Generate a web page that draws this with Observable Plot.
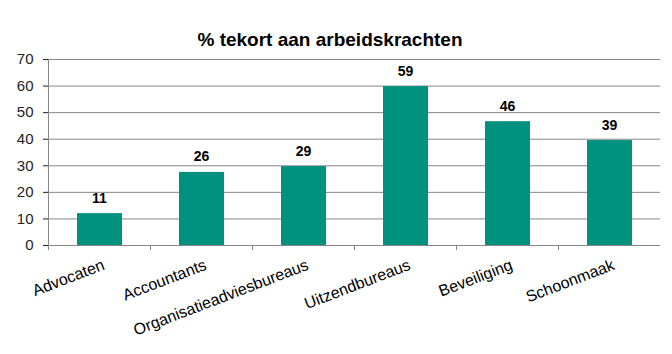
<!DOCTYPE html>
<html>
<head>
<meta charset="utf-8">
<script src="https://cdn.jsdelivr.net/npm/d3@7"></script>
<script src="https://cdn.jsdelivr.net/npm/@observablehq/plot@0.6"></script>
<style>
  html, body { margin: 0; padding: 0; background: #fff; }
  #title {
    width: 660px; height: 46px; box-sizing: border-box; padding-top: 29px;
    text-align: center; font: bold 19px "Liberation Sans", Arial, sans-serif;
    line-height: 22px; color: #000; overflow: visible; white-space: nowrap;
  }
</style>
</head>
<body>
<div id="title">% tekort aan arbeidskrachten</div>
<div id="chart"></div>
<script>
const categories = ["Advocaten", "Accountants", "Organisatieadviesbureaus", "Uitzendbureaus", "Beveiliging", "Schoonmaak"];
const values = [12, 27.5, 29.7, 59.8, 46.6, 39.5];
const valueLabels = ["11", "26", "29", "59", "46", "39"];
const yTicks = [0, 10, 20, 30, 40, 50, 60, 70];

const data = categories.map((c, i) => ({cat: c, value: values[i], label: valueLabels[i]}));

const W = 672, mL = 48, mR = 12;
const half = (W - mL - mR) / categories.length / 2;

const chart = Plot.plot({
  width: W,
  height: 308,
  marginTop: 13,
  marginBottom: 109,
  marginLeft: mL,
  marginRight: mR,
  style: {fontFamily: '"Liberation Sans", Arial, sans-serif', fontSize: "15px", color: "#222", background: "#fff"},
  x: {domain: categories, padding: 0, axis: null},
  y: {domain: [0, 70], ticks: yTicks, tickSize: 5, tickPadding: 10, label: null, tickFormat: d => String(d)},
  marks: [
    Plot.ruleY(yTicks, {stroke: "#868686", strokeWidth: 1}),
    Plot.ruleX([categories[0]], {y1: 0, y2: 70, dx: -half, stroke: "#868686"}),
    Plot.ruleX(categories, {y1: 0, y2: 0, insetBottom: -5, dx: -half, stroke: "#868686"}),
    Plot.barY(data, {x: "cat", y: "value", fill: "#00917f", insetLeft: 29, insetRight: 28}),
    Plot.text(data, {x: "cat", y: "value", text: "label", dy: -11, lineAnchor: "bottom", fontWeight: "bold", fontSize: 14, fill: "#000"}),
    Plot.text(categories, {x: d => d, frameAnchor: "bottom", dy: 13, dx: 2, rotate: -21, textAnchor: "end", lineAnchor: "top", fontSize: 16, fill: "#000"})
  ]
});
document.getElementById("chart").appendChild(chart);
</script>
</body>
</html>
